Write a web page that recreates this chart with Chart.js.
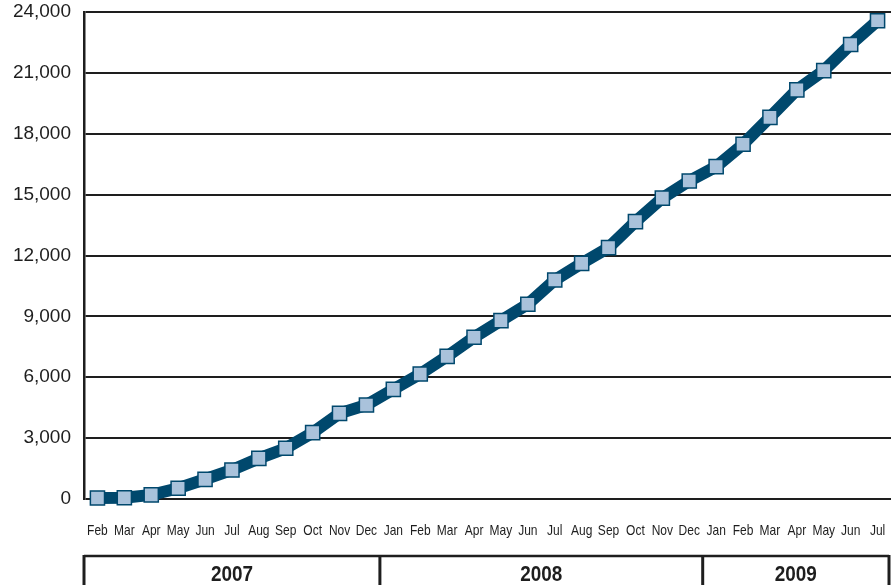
<!DOCTYPE html>
<html>
<head>
<meta charset="utf-8">
<script src="https://cdn.jsdelivr.net/npm/chart.js@4/dist/chart.umd.min.js"></script>
<style>
  html, body { margin: 0; padding: 0; background: #ffffff; }
  #wrap { width: 891px; height: 585px; position: relative; }
</style>
</head>
<body>
<div id="wrap"><canvas id="chart" width="891" height="585"></canvas></div>
<script>
// Monthly labels, Feb 2007 through Jul 2009
const months = ['Feb','Mar','Apr','May','Jun','Jul','Aug','Sep','Oct','Nov','Dec',
                'Jan','Feb','Mar','Apr','May','Jun','Jul','Aug','Sep','Oct','Nov','Dec',
                'Jan','Feb','Mar','Apr','May','Jun','Jul'];

// Cumulative totals per month
const totals = [50, 60, 200, 530, 970, 1430, 2000, 2500, 3270, 4220, 4630,
                5400, 6160, 7030, 7970, 8790, 9600, 10790, 11610, 12390, 13670, 14830, 15670,
                16380, 17480, 18810, 20160, 21110, 22400, 23570];

// Year groups shown beneath the month labels (months per year)
const years = ['2007', '2008', '2009'];
const yearMonthCounts = [11, 12, 7];

// Y axis ticks
const yTicks = [0, 3000, 6000, 9000, 12000, 15000, 18000, 21000, 24000];

const LINE = '#00486d';
const MARKER = '#a9c2db';
const INK = '#1e1e1e';
const SANS = '"Liberation Sans", Arial, Helvetica, sans-serif';

// Draws a condensed label by squeezing the glyphs horizontally
function condensedText(ctx, text, x, y, squeeze) {
  ctx.save();
  ctx.translate(x, y);
  ctx.scale(squeeze, 1);
  ctx.fillText(text, 0, 0);
  ctx.restore();
}

// Month labels and the year brackets below the plot
const timeAxis = {
  id: 'timeAxis',
  afterDraw(chart) {
    const ctx = chart.ctx;
    const x = chart.scales.x;
    const half = (x.getPixelForValue(1) - x.getPixelForValue(0)) / 2;
    ctx.save();
    ctx.fillStyle = INK;
    ctx.textAlign = 'center';

    ctx.font = '15px ' + SANS;
    ctx.textBaseline = 'middle';
    months.forEach((m, i) => condensedText(ctx, m, x.getPixelForValue(i), 531, 0.8));

    const lineY = 556;
    const left = x.getPixelForValue(0) - half;
    const right = Math.min(x.getPixelForValue(months.length - 1) + half, chart.width - 2);
    ctx.strokeStyle = INK;
    ctx.lineWidth = 2.5;
    ctx.beginPath();
    ctx.moveTo(left, lineY);
    ctx.lineTo(right, lineY);
    ctx.stroke();

    ctx.font = 'bold 22px ' + SANS;
    ctx.textBaseline = 'alphabetic';
    const edges = [left];
    let start = 0;
    yearMonthCounts.forEach((n, i) => {
      const x0 = x.getPixelForValue(start) - half;
      const x1 = Math.min(x.getPixelForValue(start + n - 1) + half, right);
      edges.push(x1);
      condensedText(ctx, years[i], (x0 + x1) / 2, 581, 0.86);
      start += n;
    });

    ctx.lineWidth = 3;
    edges.forEach(e => {
      ctx.beginPath();
      ctx.moveTo(e, lineY - 1);
      ctx.lineTo(e, chart.height);
      ctx.stroke();
    });
    ctx.restore();
  }
};

new Chart(document.getElementById('chart'), {
  type: 'line',
  data: {
    labels: months,
    datasets: [{
      data: totals,
      borderColor: LINE,
      borderWidth: 12,
      tension: 0,
      pointStyle: 'rect',
      pointRadius: 10,
      pointBackgroundColor: MARKER,
      pointBorderColor: LINE,
      pointBorderWidth: 1.5,
      clip: false
    }]
  },
  options: {
    responsive: false,
    animation: false,
    events: [],
    layout: { autoPadding: false, padding: { top: 12, right: 0, bottom: 0, left: 0 } },
    plugins: { legend: { display: false }, tooltip: { enabled: false } },
    scales: {
      x: {
        type: 'category',
        offset: true,
        grid: { display: false, drawTicks: false },
        border: { display: false },
        ticks: { display: false, autoSkip: false, maxRotation: 0 },
        afterFit(s) {
          s.height = 86;
          s.paddingLeft = 0;
          s.paddingRight = 0;
        }
      },
      y: {
        min: 0,
        max: 24000,
        afterBuildTicks(s) { s.ticks = yTicks.map(v => ({ value: v })); },
        grid: { color: INK, lineWidth: 2, drawTicks: false },
        border: { display: true, color: INK, width: 2.5 },
        ticks: {
          color: INK,
          padding: 13,
          font: { family: SANS, size: 19 },
          callback: v => v.toLocaleString('en-US')
        },
        afterFit(s) {
          s.width = 84;
          s.paddingTop = 0;
          s.paddingBottom = 0;
        }
      }
    }
  },
  plugins: [timeAxis]
});
</script>
</body>
</html>
